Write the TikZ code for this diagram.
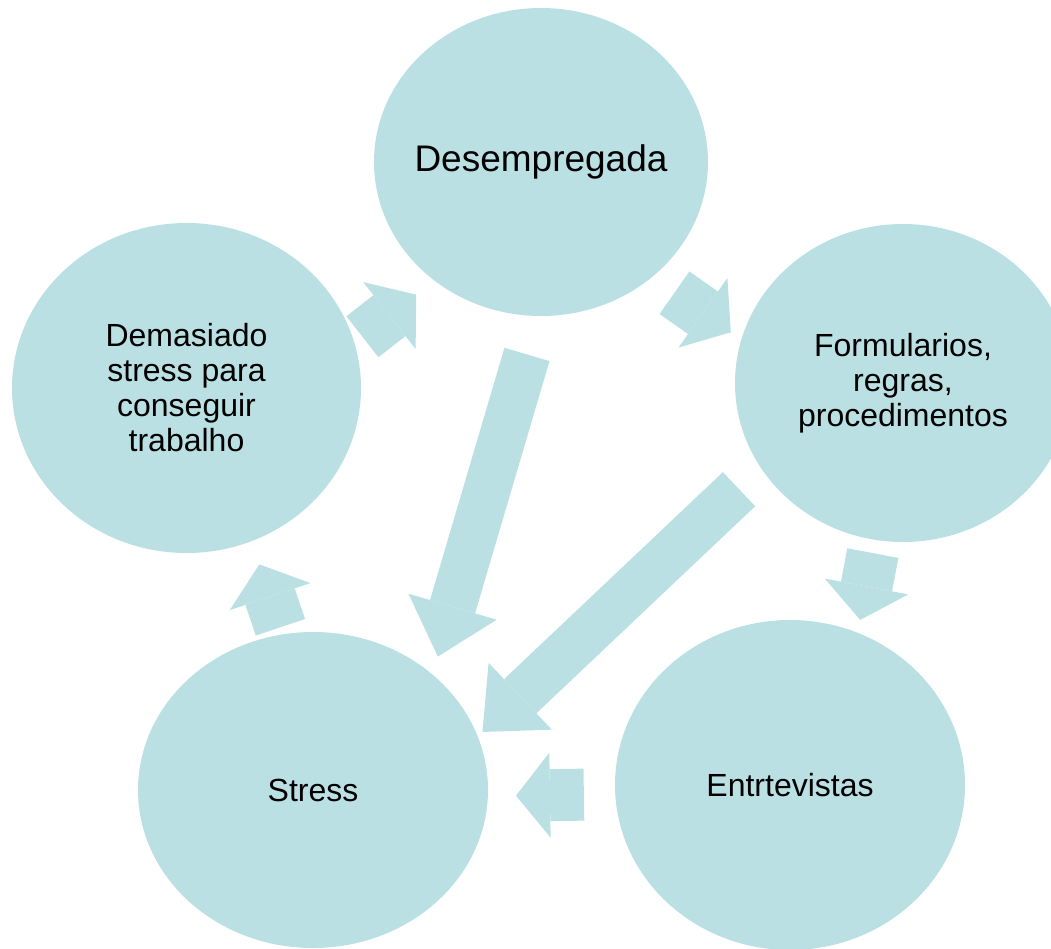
\documentclass[tikz,border=0pt]{standalone}
\usepackage{fontspec}
\setmainfont{Liberation Sans}
\usetikzlibrary{
	arrows.meta,
	shapes.geometric
}
\definecolor{bubbleBlue}{RGB}{186,224,228}
\tikzset{
	bubble/.style={ellipse,fill=bubbleBlue,inner sep=0pt,outer sep=0pt,align=center,font=\fontsize{32}{35}\selectfont},
	cycArrow/.style={draw=bubbleBlue,line width=52pt,-{Triangle[length=34pt,width=85pt,line width=0pt]}},
	longArrow/.style={draw=bubbleBlue,line width=47pt,-{Triangle[length=52pt,width=92pt,line width=0pt]}}
}
\newcommand{\tikzBubble}[4][]{\node (#3) at #2 [bubble,#1]{#4};}

\begin{document}
\begin{tikzpicture}[x=1pt,y=-1pt]
	\clip (0,0) rectangle (1051,948);
	
	\tikzBubble[minimum width=334pt,minimum height=308pt,inner xsep=-40pt,font=\fontsize{37}{40}\selectfont]{(541,162)}{desemp}{Desempregada}
	\tikzBubble[minimum width=336pt,minimum height=318pt]{(903,383)}{formul}{Formularios,\\regras,\\procedimentos}
	\tikzBubble[minimum width=350pt,minimum height=330pt]{(790,785)}{entrev}{Entrtevistas}
	\tikzBubble[minimum width=350pt,minimum height=316pt]{(313,790)}{stress}{Stress}
	\tikzBubble[minimum width=349pt,minimum height=330pt]{(186.5,388)}{demas}{Demasiado\\stress para\\conseguir\\trabalho}
	
	% cycle
	\draw[cycArrow,shorten <=10.2pt,shorten >=23pt] (demas.15.7) -- (desemp.228.6);
	\draw[cycArrow,shorten <=27.4pt,shorten >=12.9pt] (desemp.314.3) -- (formul.165.2);
	\draw[cycArrow,shorten <=13.5pt,shorten >=13.2pt] (formul.260.1) -- (entrev.66.9);
	\draw[cycArrow,shorten <=31.4pt,shorten >=28.1pt] (entrev.183.4) -- (stress.358.2);
	\draw[cycArrow,shorten <=7.5pt,shorten >=24.5pt] (stress.101.5) -- (demas.293.2);
	
	% to stress
	\draw[longArrow,shorten <=40.1pt,shorten >=18.8pt] (desemp.269) -- (stress.44.8);
	\draw[longArrow,shorten <=30.5pt,shorten >=6.6pt] (formul.211.7) -- (stress.18.7);
\end{tikzpicture}
\end{document}
